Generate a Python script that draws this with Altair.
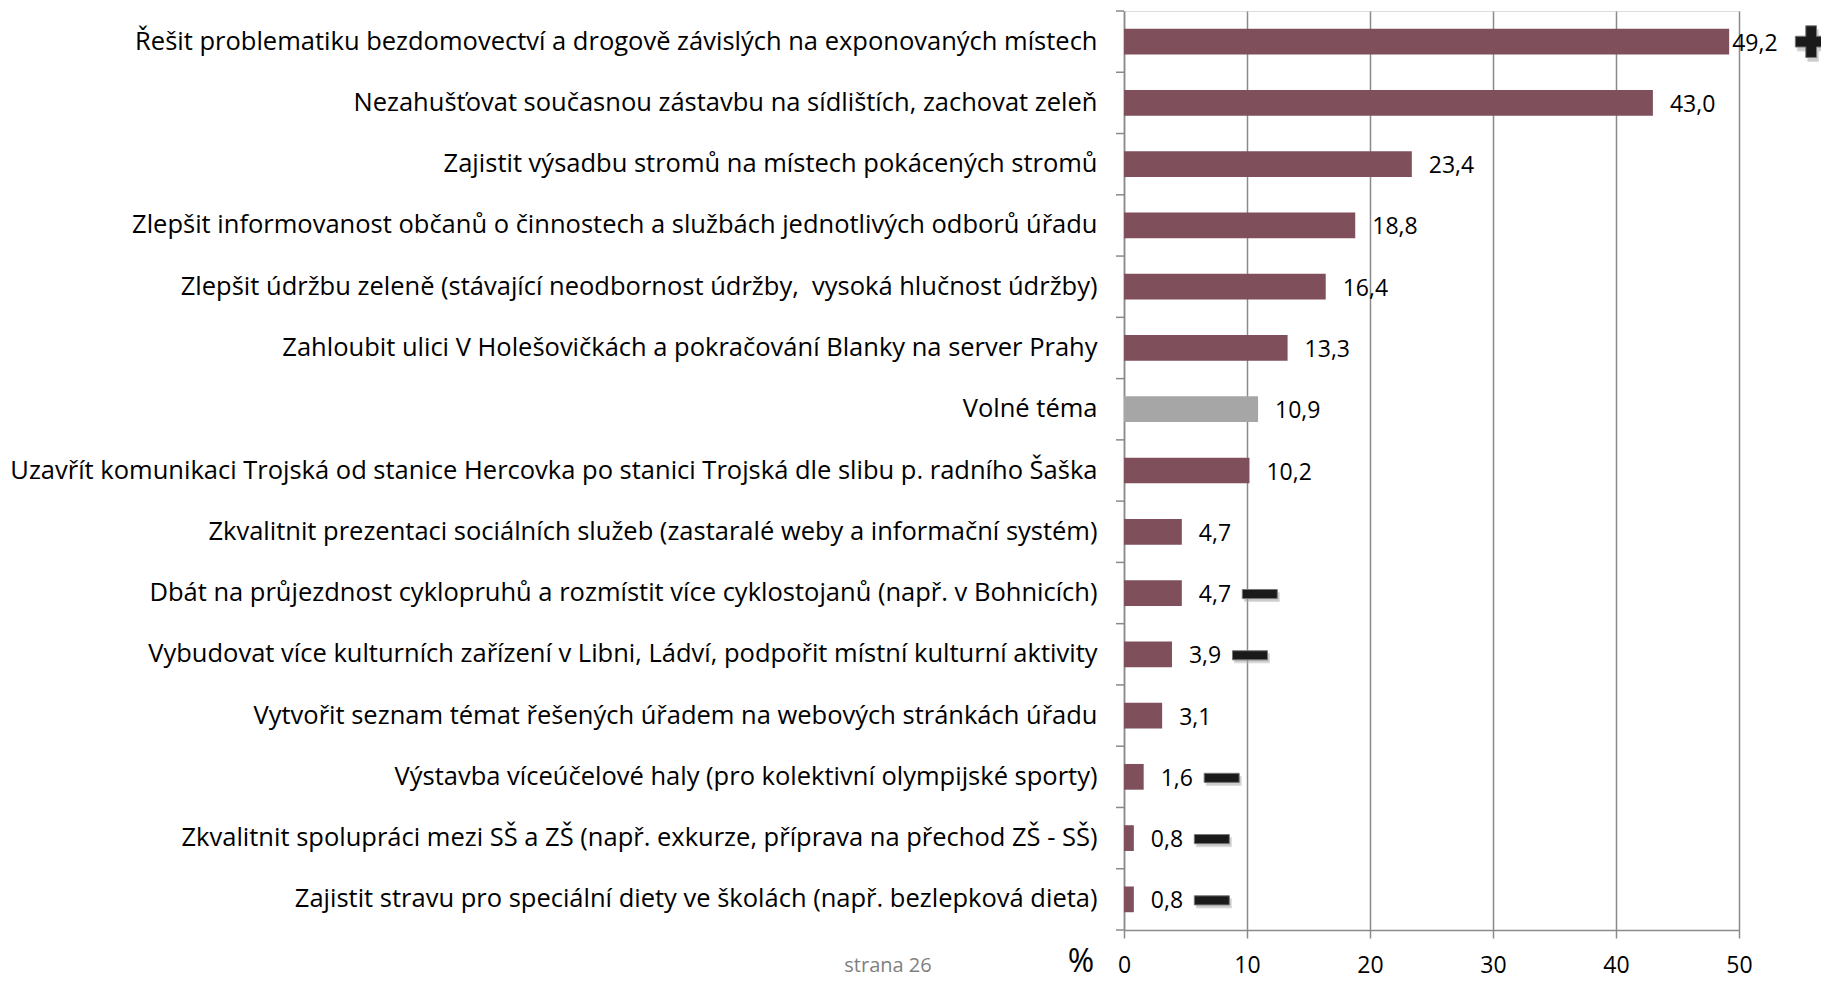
import altair as alt
import pandas as pd

categories = [
    "Řešit problematiku bezdomovectví a drogově závislých na exponovaných místech",
    "Nezahušťovat současnou zástavbu na sídlištích, zachovat zeleň",
    "Zajistit výsadbu stromů na místech pokácených stromů",
    "Zlepšit informovanost občanů o činnostech a službách jednotlivých odborů úřadu",
    "Zlepšit údržbu zeleně (stávající neodbornost údržby,\u00a0 vysoká hlučnost údržby)",
    "Zahloubit ulici V Holešovičkách a pokračování Blanky na server Prahy",
    "Volné téma",
    "Uzavřít komunikaci Trojská od stanice Hercovka po stanici Trojská dle slibu p. radního Šaška",
    "Zkvalitnit prezentaci sociálních služeb (zastaralé weby a informační systém)",
    "Dbát na průjezdnost cyklopruhů a rozmístit více cyklostojanů (např. v Bohnicích)",
    "Vybudovat více kulturních zařízení v Libni, Ládví, podpořit místní kulturní aktivity",
    "Vytvořit seznam témat řešených úřadem na webových stránkách úřadu",
    "Výstavba víceúčelové haly (pro kolektivní olympijské sporty)",
    "Zkvalitnit spolupráci mezi SŠ a ZŠ (např. exkurze, příprava na přechod ZŠ - SŠ)",
    "Zajistit stravu pro speciální diety ve školách (např. bezlepková dieta)",
]
values = [49.2, 43.0, 23.4, 18.8, 16.4, 13.3, 10.9, 10.2, 4.7, 4.7, 3.9, 3.1, 1.6, 0.8, 0.8]
kinds = ["topic"] * 6 + ["free"] + ["topic"] * 8
trend = ["plus", "", "", "", "", "", "", "", "", "minus", "minus", "", "minus", "minus", "minus"]
x_ticks = [0, 10, 20, 30, 40, 50]

df = pd.DataFrame({
    "cat": categories,
    "value": values,
    "kind": kinds,
    "trend": trend,
    "label": [f"{v:.1f}".replace(".", ",") for v in values],
})

W, H = 615, 919
STEP = H / len(categories)
GRAY = "#8a8a8a"
FONT = "Open Sans"

yscale = alt.Scale(domain=categories, paddingInner=0.58, paddingOuter=0.29)
xscale = alt.Scale(domain=[0, 50], nice=False, zero=True)

base = alt.Chart(df)

bars = base.mark_bar().encode(
    x=alt.X("value:Q", scale=xscale,
            axis=alt.Axis(values=x_ticks, grid=True, gridColor=GRAY, gridWidth=1.5,
                          domainColor=GRAY, domainWidth=1.5, tickColor=GRAY, tickWidth=1.5,
                          tickSize=8, labelFontSize=23, labelFont=FONT, labelColor="#000",
                          labelPadding=16, labelFlush=False, title=None)),
    y=alt.Y("cat:N", scale=yscale, sort=categories,
            axis=alt.Axis(title=None, ticks=False, domainColor=GRAY, domainWidth=1.5,
                          labelFont=FONT, labelFontSize=25.5, labelColor="#000",
                          labelPadding=27, labelLimit=1300)),
    color=alt.Color("kind:N", scale=alt.Scale(domain=["topic", "free"], range=["#7F4F5C", "#A6A6A6"]),
                    legend=None),
)

ticks_top = base.mark_rule(color=GRAY, strokeWidth=1.5, yOffset=-STEP / 2).encode(
    y=alt.Y("cat:N", scale=yscale, sort=categories),
    x=alt.value(-8), x2=alt.value(0),
)
ticks_bottom = base.transform_filter(alt.datum.cat == categories[-1]).mark_rule(
    color=GRAY, strokeWidth=1.5, yOffset=STEP / 2).encode(
    y=alt.Y("cat:N", scale=yscale, sort=categories),
    x=alt.value(-8), x2=alt.value(0),
)

labels_main = base.transform_filter(alt.datum.value < 45).mark_text(
    align="left", baseline="middle", dx=17, dy=2, font=FONT, fontSize=23, color="#000"
).encode(
    x=alt.X("value:Q", scale=xscale),
    y=alt.Y("cat:N", scale=yscale, sort=categories),
    text="label:N",
)
labels_top = base.transform_filter(alt.datum.value >= 45).mark_text(
    align="left", baseline="middle", dx=3, dy=2, font=FONT, fontSize=23, color="#000"
).encode(
    x=alt.X("value:Q", scale=xscale),
    y=alt.Y("cat:N", scale=yscale, sort=categories),
    text="label:N",
)

MINUS = "M-1,-0.26H1V0.26H-1Z"
PLUS = "M-0.34,-1H0.34V-0.34H1V0.34H0.34V1H-0.34V0.34H-1V-0.34H-0.34Z"


def marker(kind, shape, size, xoff, yoff, color, stroke, opacity):
    return base.transform_filter(alt.datum.trend == kind).mark_point(
        shape=shape, filled=True, color=color, stroke=stroke, strokeWidth=1,
        size=size, xOffset=xoff, yOffset=yoff, opacity=opacity
    ).encode(
        x=alt.X("value:Q", scale=xscale),
        y=alt.Y("cat:N", scale=yscale, sort=categories),
    )


minus_shadow = marker("minus", MINUS, 1225, 80, 4, "#9a9a9a", "#bbbbbb", 0.5)
minus_marks = marker("minus", MINUS, 1225, 78, 1, "#1a1a1a", "#777777", 1)
plus_shadow = marker("plus", PLUS, 1000, 84, 4, "#9a9a9a", "#bbbbbb", 0.5)
plus_marks = marker("plus", PLUS, 1000, 82, 0, "#1a1a1a", "#777777", 1)

pct = alt.Chart(pd.DataFrame({"t": ["%"]})).mark_text(
    font=FONT, fontSize=32, color="#000", align="center", baseline="middle"
).encode(x=alt.value(-43), y=alt.value(H + 32), text="t:N")

page = alt.Chart(pd.DataFrame({"t": ["strana 26"]})).mark_text(
    font=FONT, fontSize=20, color="#7F7F7F", align="center", baseline="middle"
).encode(x=alt.value(-236), y=alt.value(H + 36), text="t:N")

chart = alt.layer(
    bars, ticks_top, ticks_bottom, labels_main, labels_top,
    minus_shadow, minus_marks, plus_shadow, plus_marks, pct, page
).properties(
    width=W, height=H,
    autosize=alt.AutoSizeParams(type="none"),
    padding={"left": 1116, "top": 3, "right": 82, "bottom": 50},
).configure_view(stroke=None).configure(background="white")

chart.save("out.html", embed_options={"renderer": "svg", "actions": False})
